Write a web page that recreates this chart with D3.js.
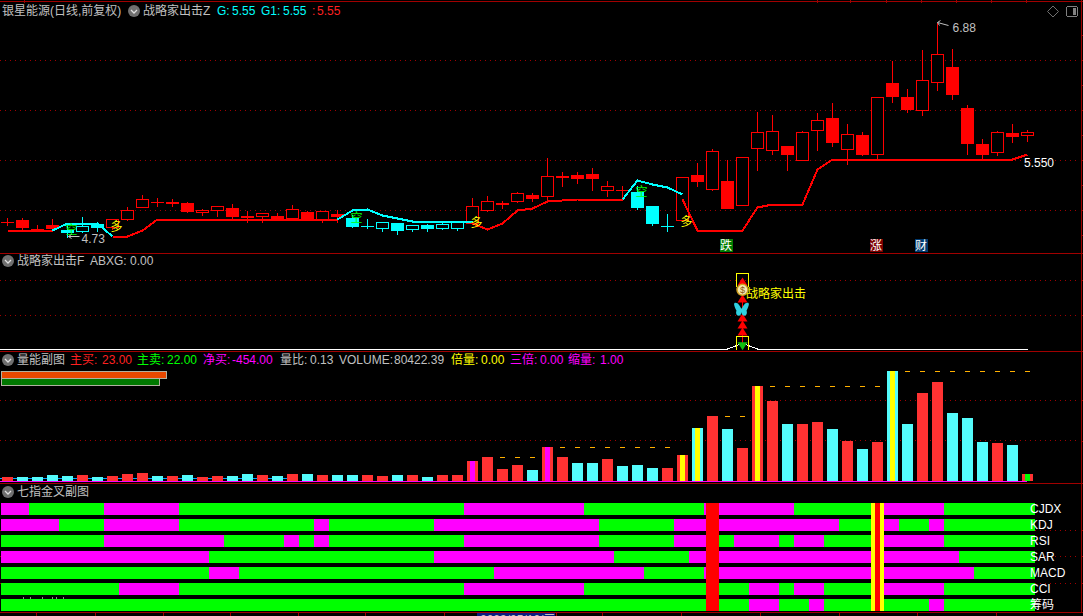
<!DOCTYPE html>
<html><head><meta charset="utf-8">
<style>html,body{margin:0;padding:0;background:#000;overflow:hidden}svg{display:block}
text{font-family:"Liberation Sans","Noto Sans CJK SC",sans-serif;font-size:12px;dominant-baseline:central}</style>
<script src="https://cdn.jsdelivr.net/npm/d3@7"></script></head><body><script>
const highs=[4.93,4.93,4.86,4.92,4.87,4.94,4.89,4.91,5.04,5.16,5.13,5.12,5.09,5.02,5.05,5.07,5.00,4.98,4.98,5.06,5.00,4.99,5.01,4.96,4.92,4.89,4.88,4.86,4.87,4.90,4.89,5.13,5.15,5.10,5.19,5.18,5.53,5.39,5.39,5.43,5.30,5.25,5.25,5.05,4.97,5.33,5.48,5.62,5.51,5.53,5.99,5.96,5.65,5.80,5.98,6.08,5.87,5.79,6.13,6.50,6.22,6.61,6.88,6.62,6.06,5.72,5.80,5.87,5.81];
const lows=[4.85,4.81,4.80,4.81,4.73,4.78,4.79,4.81,4.90,5.03,5.04,5.04,4.98,4.95,4.94,4.92,4.88,4.88,4.90,4.91,4.90,4.88,4.88,4.83,4.82,4.79,4.76,4.79,4.79,4.81,4.80,4.87,4.99,5.02,5.08,5.09,5.09,5.24,5.27,5.20,5.14,5.11,5.01,4.85,4.79,4.90,5.24,5.20,5.02,5.05,5.40,5.56,5.40,5.50,5.60,5.64,5.46,5.55,5.52,6.08,5.98,5.95,6.20,6.11,5.56,5.52,5.55,5.68,5.69];
const bodyHigh=[4.89,4.91,4.82,4.86,4.81,4.84,4.87,4.91,5.00,5.11,5.09,5.09,5.08,5.00,5.04,5.03,4.95,4.97,4.95,5.01,4.99,4.99,4.97,4.93,4.85,4.88,4.88,4.85,4.86,4.86,4.88,5.04,5.09,5.08,5.17,5.16,5.34,5.35,5.36,5.37,5.24,5.21,5.19,5.05,4.85,5.33,5.36,5.59,5.30,5.53,5.78,5.79,5.65,5.78,5.90,5.93,5.76,5.76,6.13,6.28,6.14,6.30,6.56,6.44,6.03,5.67,5.78,5.78,5.78];
const bodyLow=[4.88,4.83,4.80,4.82,4.78,4.79,4.83,4.83,4.91,5.03,5.08,5.07,4.99,4.98,5.00,4.94,4.93,4.94,4.92,4.92,4.91,4.90,4.94,4.84,4.84,4.82,4.80,4.81,4.82,4.82,4.82,4.87,5.00,5.06,5.09,5.12,5.14,5.33,5.32,5.32,5.20,5.20,5.03,4.87,4.84,4.90,5.29,5.21,5.02,5.05,5.62,5.60,5.56,5.50,5.80,5.68,5.61,5.56,5.56,6.14,6.01,6.00,6.28,6.16,5.67,5.56,5.58,5.74,5.75];
// f = filled red, h = hollow red, C = filled cyan, c = hollow cyan
const candleStyles="ffffCcChhhfffhhffhfhfhf"+"CCcCcCcc"+"hhfhfhfffhf"+"CCC"+"hfhfhhhfhhfhfhffhhfffhfh";
const supportRed=[4.80,4.80,4.80,4.80,null,null,null,4.74,4.74,4.80,4.91,4.91,4.91,4.91,4.91,4.91,4.91,4.91,4.91,4.91,4.91,4.91,4.91,null,null,null,null,null,null,null,null,4.87,4.81,4.87,5.00,5.02,5.09,5.10,5.11,5.11,5.11,5.11,null,null,null,5.11,4.80,4.80,4.80,4.80,5.03,5.06,5.06,5.06,5.41,5.51,5.51,5.51,5.51,5.51,5.51,5.51,5.51,5.51,5.51,5.51,5.51,5.51,5.56];
const supportCyan=[null,null,null,4.80,4.87,4.87,4.87,4.74,null,null,null,null,null,null,null,null,null,null,null,null,null,null,4.91,5.00,5.01,4.95,4.92,4.89,4.89,4.89,4.89,4.89,null,null,null,null,null,null,null,null,null,5.11,5.30,5.26,5.23,5.16,null,null,null,null,null,null,null,null,null,null,null,null,null,null,null,null,null,null,null,null,null,null,null];
const duoMarks=[[7,4.84],[31,4.88],[45,4.89]];
const kongMarks=[[4,4.81],[23,4.93],[42,5.19]];
const noteDays=[[47.9,"跌","#007c00"],[57.9,"涨","#7c0000"],[60.9,"财","#003a70"]];
const priceGrid=[6.5,6,5.5,5];

const abxg=[0,0,0,0,0,0,0,0,0,0,0,0,0,0,0,0,0,0,0,0,0,0,0,0,0,0,0,0,0,0,0,0,0,0,0,0,0,0,0,0,0,0,0,0,0,0,0,0,0,8,0,0,0,0,0,0,0,0,0,0,0,0,0,0,0,0,0,0,0];
const signalGrid=[50,100];
const signalDay=49;
const arrowLevels=[98,72,45,35,25];

const volumes=[40,40,40,60,50,60,40,50,70,80,50,50,60,40,50,50,70,60,50,70,70,60,60,60,60,50,60,60,40,60,60,200,240,120,160,110,340,240,180,180,220,150,160,130,130,260,530,650,520,330,950,800,570,570,590,520,400,320,390,1100,570,880,990,680,630,390,380,360,70];
const volumeKinds="rccccrcrrr"+"crcrrccrcr"+"crccrrcrcr"+"rrrrrcrrcc"+"rcccrrcrcr"+"rrcrrcrcrc"+"crrcccrcr";
const dblBars=new Map([[31,"#ff00ff"],[36,"#ff00ff"],[45,"#ffff00"],[46,"#ffff00"],[50,"#ffff00"],[59,"#ffff00"],[68,"#00ff00"]]);
const dashStart=[33,37,44,48,51,60];
const dashEnd=[35,44,44,49,58,68];
const dashValue=[240,340,340,650,950,1100];
const volumeGrid=[410,810];
const buyStrength=23, sellStrength=22;

const rowNames=["CJDX","KDJ","RSI","SAR","MACD","CCI","筹码"];
// alternating run lengths over the 69 days; m = magenta first, g = green first
const cjdxRuns=["m",2,5,5,19,8,8,6,6,4,99];
const kdjRuns=["m",4,3,5,9,1,7,11,5,11,3,1,2,1,99];
const rsiRuns=["g",7,8,4,1,1,1,9,9,5,3,1,3,1,2,4,4,99];
const sarRuns=["m",14,15,12,5,18,99];
const macdRuns=["g",14,2,17,10,4,18,99];
const cciRuns=["g",8,4,19,8,11,2,1,2,4,4,99];
const chipRuns=["g",50,2,2,1,7,1,99];
const signalCols=[47,58];

const tickTop=[24,817,850,886,921,956,991,1026];
const tickBottom=[36,95,163,230,298,365,444,556,602,681,760,839,917,996];

const W=1083,H=616,RED="#a00000";
const svg=d3.select("body").append("svg").attr("width",W).attr("height",H).style("background","#000");
const crisp=svg.append("g").attr("shape-rendering","crispEdges");
const x=d3.scaleLinear().domain([0,68]).range([7.5,1027.5]);
const yP=d3.scaleLinear().domain([4.73,6.88]).range([237.5,22.5]);
const yS=d3.scaleLinear().domain([0,100]).range([350,280]);
const yV=d3.scaleLinear().domain([0,1100]).range([481,371]);
const yRow=d3.scaleBand().domain(rowNames).range([503,611]).paddingInner(0.25).paddingOuter(0).align(0);
const hGrid=(ys)=>crisp.append("g").selectAll("line").data(ys).join("line").attr("x1",0).attr("x2",1080).attr("y1",d=>Math.floor(d)+.5).attr("y2",d=>Math.floor(d)+.5).attr("stroke",RED).attr("stroke-dasharray","1,4");
hGrid(priceGrid.map(yP));hGrid(signalGrid.map(yS));hGrid(volumeGrid.map(yV));hGrid([530,556,583].map(v=>v));

// frame
const frame=crisp.append("g").attr("stroke",RED);
[1,253,351,483,612].forEach(y=>frame.append("line").attr("x1",0).attr("x2",W).attr("y1",y+.5).attr("y2",y+.5));
frame.append("line").attr("x1",1081.5).attr("x2",1081.5).attr("y1",0).attr("y2",612);
frame.selectAll(".t").data(tickTop).join("line").attr("class","t").attr("x1",d=>d+.5).attr("x2",d=>d+.5).attr("y1",0).attr("y2",3);
frame.selectAll(".b").data(tickBottom).join("line").attr("class","b").attr("x1",d=>d+.5).attr("x2",d=>d+.5).attr("y1",612).attr("y2",616);
frame.selectAll(".r").data(d3.range(35,240,25).concat([280,315,400,441,530,556,583])).join("line").attr("class","r").attr("x1",1081).attr("x2",1083).attr("y1",d=>d+.5).attr("y2",d=>d+.5);

// candles
const n=highs.length;
const cv=crisp.append("g");
d3.range(n).forEach(i=>{
  const s=candleStyles[i],col=(s==="c"||s==="C")?"#00ffff":"#ff0000",cx=x(i);
  cv.append("line").attr("x1",cx).attr("x2",cx).attr("y1",yP(highs[i])).attr("y2",yP(lows[i])).attr("stroke",col);
  const t=yP(bodyHigh[i]),b=yP(bodyLow[i]);
  if(s==="h"||s==="c") cv.append("rect").attr("x",cx-6).attr("y",t).attr("width",12).attr("height",Math.max(1,b-t)).attr("fill","#000").attr("stroke",col);
  else cv.append("rect").attr("x",cx-6.5).attr("y",t).attr("width",13).attr("height",Math.max(1,b-t)).attr("fill",col);
});
const gLine=d3.line().defined(d=>d!=null).x((d,i)=>x(i)).y(d=>yP(d));
crisp.append("path").attr("d",gLine(supportRed)).attr("fill","none").attr("stroke","#ff0000").attr("stroke-width",2);
crisp.append("path").attr("d",gLine(supportCyan)).attr("fill","none").attr("stroke","#00ffff").attr("stroke-width",2);
duoMarks.forEach(([i,p])=>svg.append("text").attr("x",x(i)+4).attr("y",yP(p)).attr("text-anchor","middle").attr("fill","#ffff00").text("多"));
kongMarks.forEach(([i,p])=>svg.append("text").attr("x",x(i)+4).attr("y",yP(p)).attr("text-anchor","middle").attr("fill","#00ff00").text("空"));
noteDays.forEach(([i,t,c])=>{
  crisp.append("rect").attr("x",x(i)-6.5).attr("y",239).attr("width",13).attr("height",13).attr("fill",c);
  svg.append("text").attr("x",x(i)).attr("y",245.5).attr("text-anchor","middle").attr("fill","#fff").text(t);
});
const arrowG=svg.append("g").attr("stroke","#c0c0c0").attr("fill","none");
const hi=highs.indexOf(d3.max(highs)),lo=lows.indexOf(d3.min(lows));
arrowG.append("path").attr("d",`M${x(hi)},${yP(highs[hi])}l11,3M${x(hi)},${yP(highs[hi])}l3,-2M${x(hi)},${yP(highs[hi])}l2,3`);
arrowG.append("path").attr("d",`M${x(lo)+1},${yP(lows[lo])-1}h11M${x(lo)+1},${yP(lows[lo])-1}l3,-2M${x(lo)+1},${yP(lows[lo])-1}l3,2`);
const txt=(X,Y,t,c,fs)=>svg.append("text").attr("x",X).attr("y",Y).attr("fill",c).style("font-size",(fs||12)+"px").text(t);
txt(x(hi)+15,yP(highs[hi])+5,"6.88","#c0c0c0");
txt(x(lo)+14,yP(lows[lo])+1,"4.73","#c0c0c0");
txt(1024,163,"5.550","#ffffff");

// signal panel
const abx=d3.line().x(d=>x(d[0])).y(d=>yS(d[1]));
crisp.append("path").attr("d",abx([[-0.5,0],...abxg.map((v,i)=>[i,v])])).attr("transform","translate(0,-1)").attr("fill","none").attr("stroke","#fff");
const sx=x(signalDay);
crisp.append("line").attr("x1",sx).attr("x2",sx).attr("y1",yS(103)).attr("y2",yS(5)).attr("stroke","#ff0000");
const sBox=svg.append("g").attr("fill","none").attr("stroke","#ffff00").attr("shape-rendering","crispEdges");
sBox.append("path").attr("d",`M${sx-6},287V273.5H${sx+6}V287`);
sBox.append("path").attr("d",`M${sx-6},350V336.5H${sx+6}V350`);
arrowLevels.forEach(v=>svg.append("path").attr("d",`M${sx},${yS(v)+(v==98?-4:-5)}l5,8h-10z`).attr("fill","#ff0000"));
svg.append("path").attr("d",`M${sx-5},${yS(1)-7}h10l-5,8z`).attr("fill","#10c010");
svg.append("path").attr("d",`M${sx-5},${yS(56)}c-3,-6 -3,-8 -1,-8c3,0 4,3 6,6c2,-3 3,-6 6,-6c2,0 2,2 -1,8c1,2 0,5 -2,5c-2,0 -3,-2 -3,-4c0,2 -1,4 -3,4c-2,0 -3,-3 -2,-5z`).attr("transform","translate(-1,0)").attr("fill","#30d0e0");
svg.append("circle").attr("cx",sx).attr("cy",yS(86)).attr("r",5.5).attr("fill","#f4e8b0").attr("stroke","#d0a020").attr("stroke-width",1.5);
svg.append("text").attr("x",sx).attr("y",yS(86)).attr("text-anchor","middle").attr("fill","#8a5a10").style("font-size","9px").text("$");
txt(746,294,"战略家出击","#ffff00");

// volume panel
crisp.append("line").attr("x1",0).attr("x2",290).attr("y1",478.5).attr("y2",478.5).attr("stroke","#00a0ff");
crisp.append("line").attr("x1",0).attr("x2",1027).attr("y1",481.5).attr("y2",481.5).attr("stroke","#ff00ff");
const vb=crisp.append("g");
volumes.forEach((v,i)=>{
  const kc=volumeKinds[i]==="c"?"#54fcfc":"#ff3232";
  vb.append("rect").attr("x",x(i)-5.5).attr("y",yV(v)).attr("width",11).attr("height",yV(0)-yV(v)).attr("fill",kc);
  if(dblBars.has(i)) vb.append("rect").attr("x",x(i)-2.5).attr("y",yV(v)).attr("width",5).attr("height",yV(0)-yV(v)).attr("fill",dblBars.get(i));
});
dashStart.forEach((s,k)=>d3.range(s,dashEnd[k]+1).forEach(i=>vb.append("rect").attr("x",x(i)-2.5).attr("y",yV(dashValue[k])).attr("width",5).attr("height",1).attr("fill","#ffb000")));
const sw=d3.scaleLinear().domain([0,23]).range([0,165]);
vb.append("rect").attr("x",1.5).attr("y",371.5).attr("width",sw(buyStrength)).attr("height",7).attr("fill","#e84800").attr("stroke","#b0b0a0");
vb.append("rect").attr("x",1.5).attr("y",378.5).attr("width",sw(sellStrength)).attr("height",7).attr("fill","#007800").attr("stroke","#b0b0a0");

// seven indicators
const expand=r=>{let st=r[0],o=[];r.slice(1).forEach(c=>{for(let k=0;k<c&&o.length<n;k++)o.push(st);st=st==="m"?"g":"m";});return o;};
const runs=[cjdxRuns,kdjRuns,rsiRuns,sarRuns,macdRuns,cciRuns,chipRuns];
const rg=crisp.append("g");
rowNames.forEach((name,r)=>{
  expand(runs[r]).forEach((s,i)=>{
    const x0=Math.max(1,x(i)-8.5),x1=i===n-1?1035:x(i)+6.5;
    rg.append("rect").attr("x",x0).attr("y",yRow(name)).attr("width",x1-x0).attr("height",12).attr("fill",s==="m"?"#ff00ff":"#00ff00");
  });
  txt(1030,yRow(name)+6,name,"#ffffff");
});
signalCols.forEach((i,k)=>{
  const top=yRow(rowNames[0]),h=yRow(rowNames[6])+12-top;
  rg.append("rect").attr("x",x(i)-6.5).attr("y",top).attr("width",13).attr("height",h).attr("fill",k?"#ffff00":"#ff0000");
  if(k) rg.append("rect").attr("x",x(i)-2.5).attr("y",top).attr("width",5).attr("height",h).attr("fill","#ff0000");
});
[23,30,42,52,56,63].forEach(X=>rg.append("rect").attr("x",X).attr("y",597).attr("width",1).attr("height",2).attr("fill","#909090"));
crisp.append("rect").attr("x",477).attr("y",613).attr("width",78).attr("height",3).attr("fill","#0a1a80");
svg.append("text").attr("x",480).attr("y",620).attr("fill","#c0c0c0").text("2023/05/10/三");

// headers
const icon=(cx,cy)=>{svg.append("circle").attr("cx",cx).attr("cy",cy).attr("r",6).attr("fill","#707070");
 svg.append("path").attr("d",`M${cx-3},${cy-1}l3,3l3,-3`).attr("fill","none").attr("stroke","#e0e0e0").attr("stroke-width",1.3);};
const G="#c0c0c0";
txt(2,11,"银星能源(日线,前复权)",G);icon(134,11);txt(143,11,"战略家出击Z",G);
txt(217,11,"G:","#00ffff");txt(232,11,"5.55","#00ffff");txt(261,11,"G1:","#00ffff");txt(283,11,"5.55","#00ffff");txt(312,11,":","#ff2020");txt(317,11,"5.55","#ff2020");
icon(8,261);txt(17,261,"战略家出击F",G);txt(90,261,"ABXG: 0.00",G);
icon(8,360);txt(17,360,"量能副图",G);
[[70,"主买:","#ff2020"],[102,"23.00","#ff2020"],[137,"主卖:","#00ff00"],[167,"22.00","#00ff00"],[203,"净买:","#ff00ff"],[232,"-454.00","#ff00ff"],[280,"量比:",G],[310,"0.13",G],[339,"VOLUME:",G],[394,"80422.39",G],[451,"倍量:","#ffff00"],[481,"0.00","#ffff00"],[510,"三倍:","#ff00ff"],[540,"0.00","#ff00ff"],[568,"缩量:","#ff00ff"],[600,"1.00","#ff00ff"]].forEach(d=>txt(d[0],360,d[1],d[2]));
icon(8,492);txt(17,492,"七指金叉副图",G);
svg.append("path").attr("d","M1053,6l5.5,5.5l-5.5,5.5l-5.5,-5.5z").attr("fill","none").attr("stroke","#707070");
crisp.append("rect").attr("x",1066.5).attr("y",6.5).attr("width",11).attr("height",10).attr("rx",2).attr("fill","none").attr("stroke","#808080");
crisp.append("rect").attr("x",1073).attr("y",8).attr("width",3).attr("height",7).attr("fill","#808080");
</script></body></html>
